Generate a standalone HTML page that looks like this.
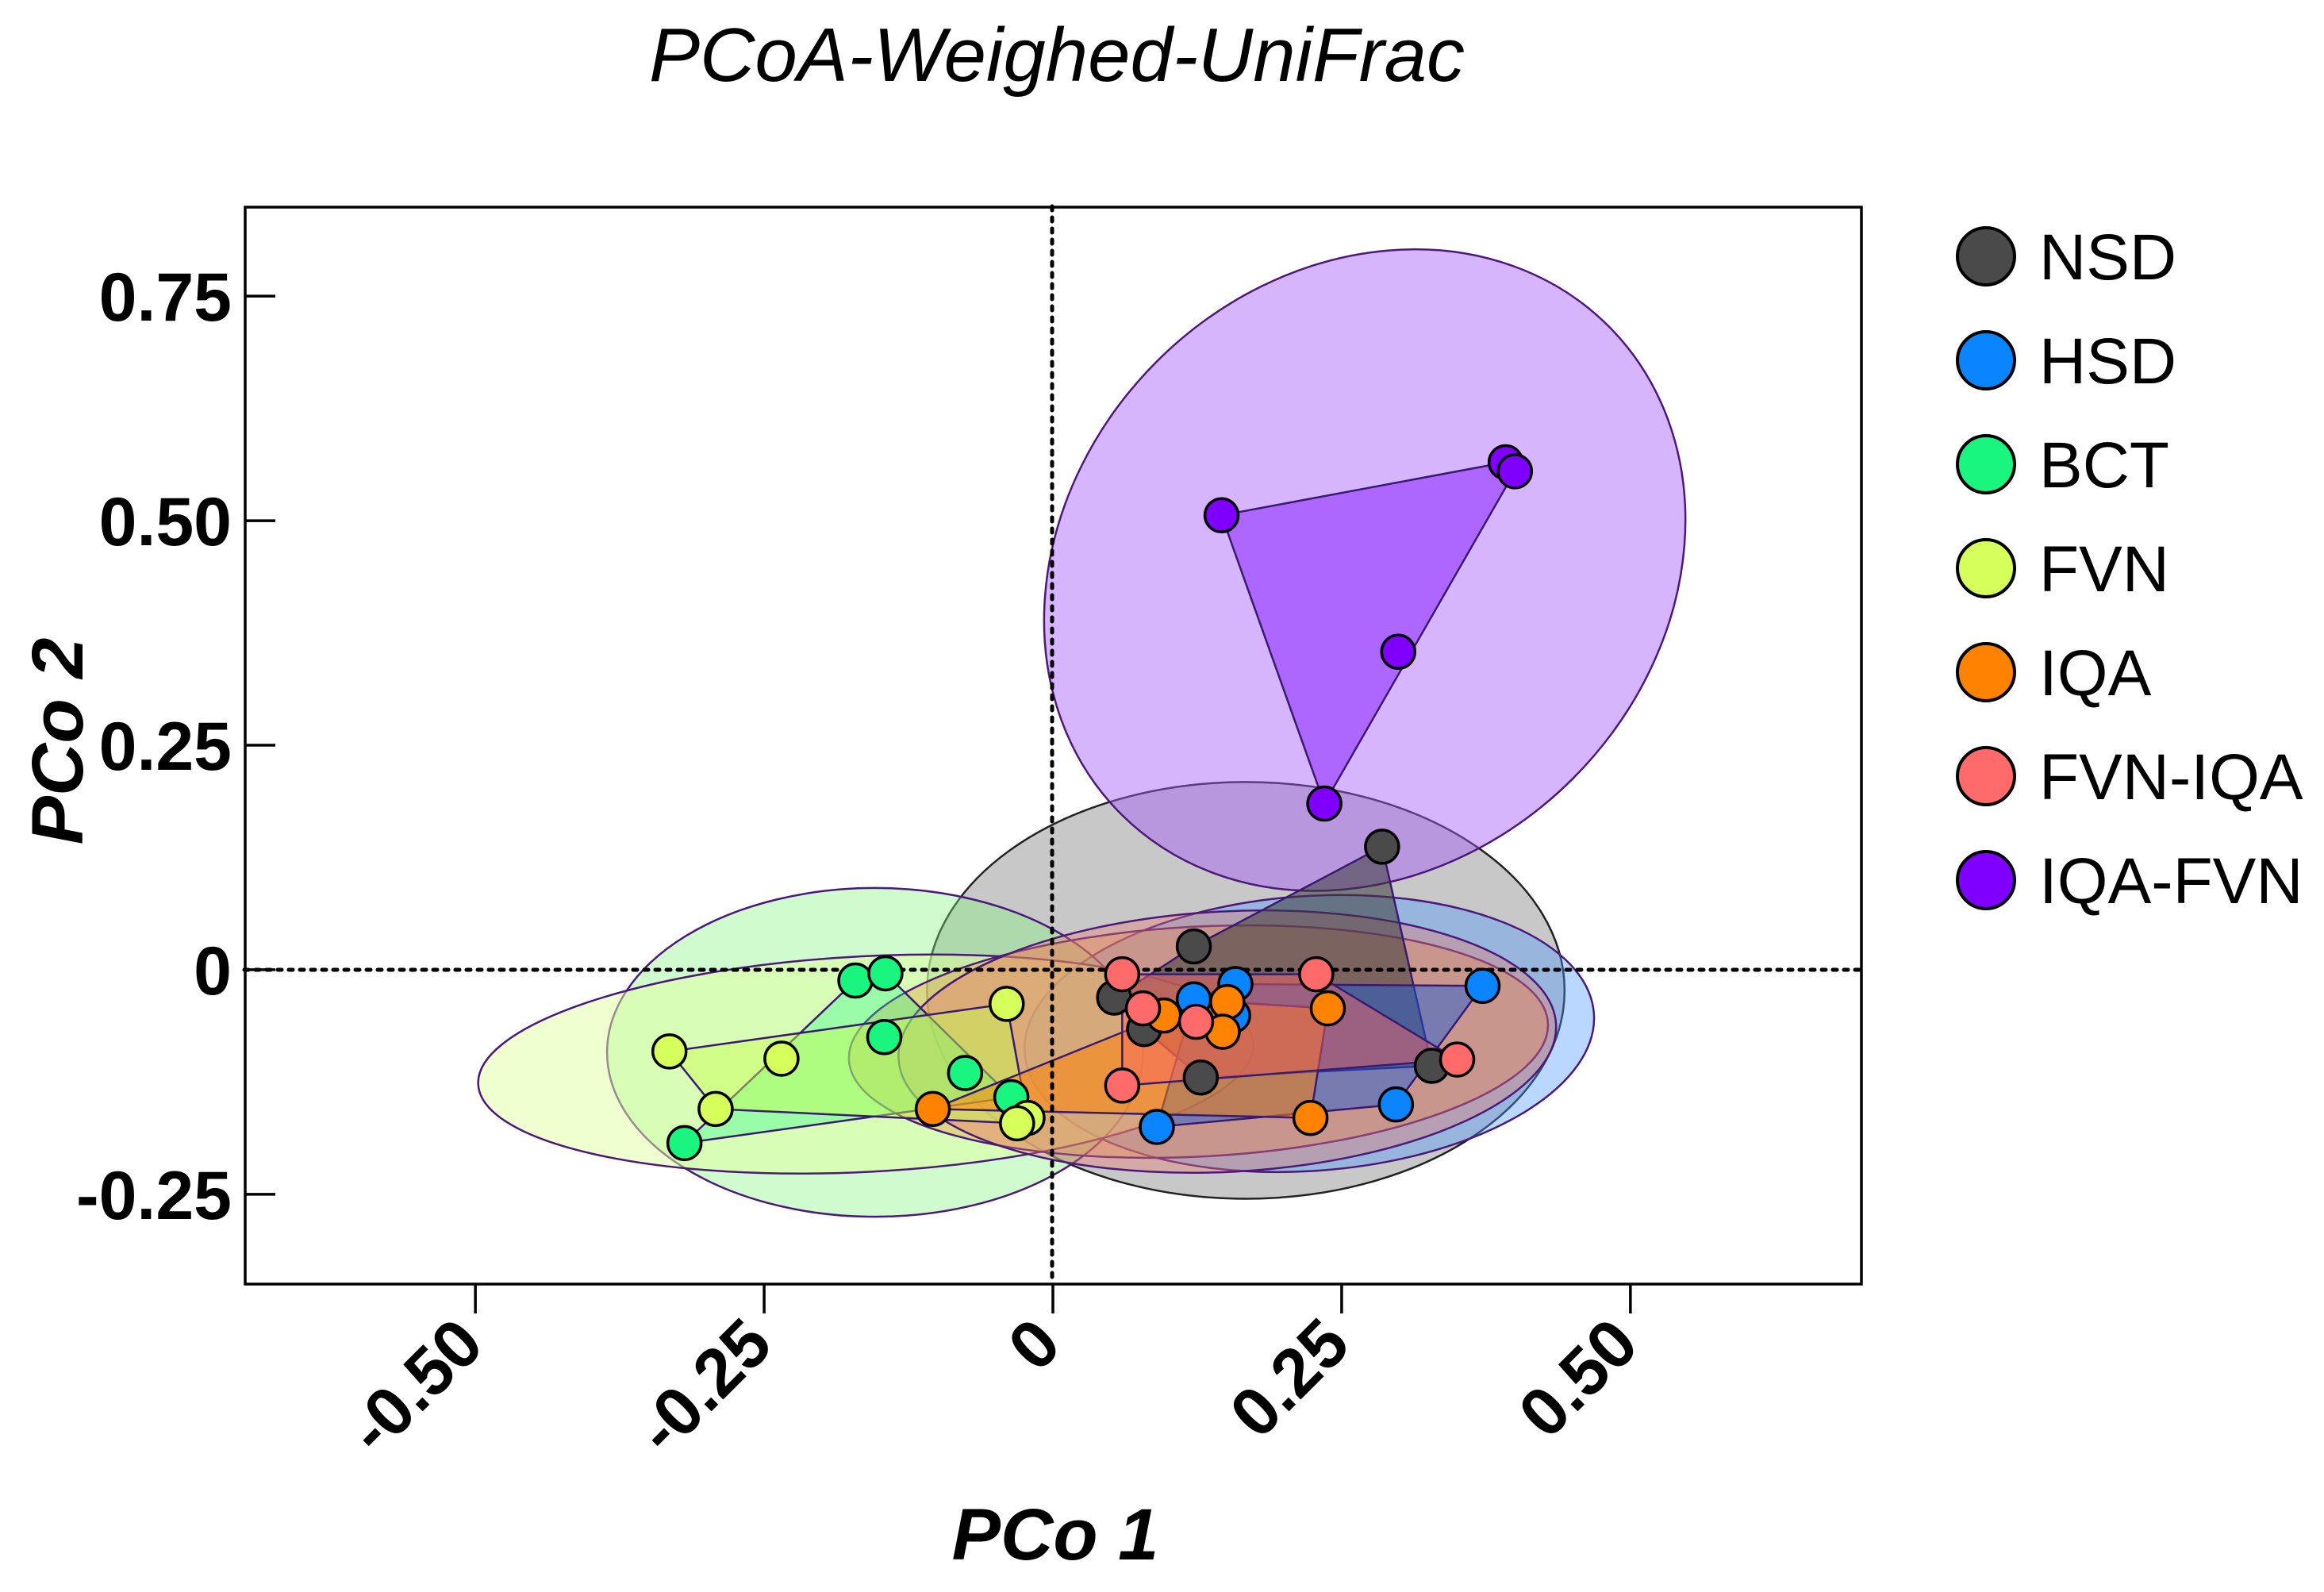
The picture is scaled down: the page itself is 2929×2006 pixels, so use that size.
<!DOCTYPE html>
<html><head><meta charset="utf-8"><style>
html,body{margin:0;padding:0;background:#fff;}
svg{display:block;font-family:"Liberation Sans",Arial,sans-serif;}
</style></head><body>
<svg id="chart" width="2929" height="2006" viewBox="0 0 2929 2006">
<text x="1332" y="102" font-size="96" font-style="italic" text-anchor="middle">PCoA-Weighed-UniFrac</text>
<g id="ellipses"></g>
<g id="hulls"></g>
<line x1="1326" y1="260" x2="1326" y2="1618" stroke="#000" stroke-width="5" stroke-dasharray="5 9" stroke-linecap="round"/>
<line x1="308" y1="1222" x2="2346" y2="1222" stroke="#000" stroke-width="5" stroke-dasharray="5 9" stroke-linecap="round"/>
<g id="points"></g>
<rect x="309" y="261" width="2037" height="1357" fill="none" stroke="#000" stroke-width="3.5"/>
<g id="axes"></g>
<text x="1330" y="1965" font-size="92" font-weight="bold" font-style="italic" text-anchor="middle">PCo 1</text>
<text transform="translate(104,934) rotate(-90)" font-size="92" font-weight="bold" font-style="italic" text-anchor="middle">PCo 2</text>
<g id="legend"></g>
</svg>
<script>
const groups = ["NSD","HSD","BCT","FVN","IQA","FVN-IQA","IQA-FVN"];
const colors = ["#4a4a4a","#0a84ff","#1af57f","#d6ff5c","#ff8200","#ff6a6a","#7f00ff"];
const ellFill = ["rgba(110,110,110,0.38)","rgba(70,150,255,0.38)","rgba(130,245,130,0.38)","rgba(225,255,160,0.5)","rgba(230,150,60,0.38)","rgba(235,120,110,0.38)","rgba(165,90,250,0.45)"];
const hullFill = ["rgba(60,60,60,0.55)","rgba(20,90,220,0.45)","rgba(40,245,140,0.35)","rgba(200,255,80,0.45)","rgba(255,130,0,0.5)","rgba(255,100,100,0.45)","rgba(150,60,255,0.65)"];
const xsNSD = [0.285,0.122,0.053,0.079,0.128,0.328];
const ysNSD = [0.137,0.026,-0.031,-0.066,-0.12,-0.107];
const xsHSD = [0.158,0.122,0.156,0.372,0.297,0.09];
const ysHSD = [-0.016,-0.033,-0.051,-0.018,-0.15,-0.175];
const xsBCT = [-0.171,-0.145,-0.146,-0.076,-0.036,-0.319];
const ysBCT = [-0.012,-0.004,-0.075,-0.115,-0.142,-0.193];
const xsFVN = [-0.332,-0.235,-0.292,-0.04,-0.022,-0.031];
const ysFVN = [-0.091,-0.099,-0.155,-0.038,-0.165,-0.171];
const xsIQA = [0.096,0.151,0.147,0.238,0.223,-0.104];
const ysIQA = [-0.051,-0.036,-0.069,-0.043,-0.165,-0.155];
const xsFI = [0.06,0.078,0.124,0.228,0.35,0.06];
const ysFI = [-0.005,-0.043,-0.058,-0.005,-0.1,-0.129];
const xsIF = [0.146,0.392,0.4,0.299,0.235];
const ysIF = [0.506,0.565,0.555,0.354,0.185];
const allX = [xsNSD,xsHSD,xsBCT,xsFVN,xsIQA,xsFI,xsIF];
const allY = [ysNSD,ysHSD,ysBCT,ysFVN,ysIQA,ysFI,ysIF];
// ellipses: center x, center y, radius x, radius y (data units), angle deg
const ellCx = [0.167,0.222,-0.154,-0.162,0.126,0.151,0.27];
const ellCy = [-0.023,-0.071,-0.092,-0.105,-0.08,-0.08,0.445];
const ellRx = [0.276,0.247,0.232,0.336,0.303,0.285,0.255];
const ellRy = [0.232,0.153,0.183,0.12,0.128,0.145,0.384];
const ellAng = [0,-4,0,-3,-3,-3,45];
const xTicks = [-0.5,-0.25,0,0.25,0.5];
const xTickLabels = ["-0.50","-0.25","0","0.25","0.50"];
const yTicks = [-0.25,0,0.25,0.5,0.75];
const yTickLabels = ["-0.25","0","0.25","0.50","0.75"];

const X0=308,X1=2346,Y0=260,Y1=1618, xmin=-0.7,xmax=0.7,ymin=-0.35,ymax=0.85;
function sx(v){return X0+(v-xmin)/(xmax-xmin)*(X1-X0);}
function sy(v){return Y1-(v-ymin)/(ymax-ymin)*(Y1-Y0);}
const NS="http://www.w3.org/2000/svg";
function mk(tag,attrs,parent){const e=document.createElementNS(NS,tag);for(const k in attrs)e.setAttribute(k,attrs[k]);parent.appendChild(e);return e;}
const gE=document.getElementById('ellipses'),gH=document.getElementById('hulls'),gP=document.getElementById('points'),gA=document.getElementById('axes'),gL=document.getElementById('legend');
const sxk=(X1-X0)/(xmax-xmin), syk=(Y1-Y0)/(ymax-ymin);
for(let i=0;i<groups.length;i++){
  const e=mk('ellipse',{cx:sx(ellCx[i]),cy:sy(ellCy[i]),rx:ellRx[i]*sxk,ry:ellRy[i]*syk,fill:ellFill[i],stroke:i==0?"#222":"#4b1a78","stroke-width":2.5,transform:`rotate(${ellAng[i]} ${sx(ellCx[i])} ${sy(ellCy[i])})`},gE);
  
  
}
function hull(pts){pts=pts.slice().sort((a,b)=>a[0]-b[0]||a[1]-b[1]);const cr=(o,a,b)=>(a[0]-o[0])*(b[1]-o[1])-(a[1]-o[1])*(b[0]-o[0]);const lo=[],up=[];for(const p of pts){while(lo.length>=2&&cr(lo[lo.length-2],lo[lo.length-1],p)<=0)lo.pop();lo.push(p);}for(const p of pts.slice().reverse()){while(up.length>=2&&cr(up[up.length-2],up[up.length-1],p)<=0)up.pop();up.push(p);}return lo.slice(0,-1).concat(up.slice(0,-1));}
for(let i=0;i<groups.length;i++){
  const pts=allX[i].map((x,j)=>[sx(x),sy(allY[i][j])]);
  const h=hull(pts);
  const p=mk('polygon',{points:h.map(q=>q.join(',')).join(' '),fill:hullFill[i],stroke:"#3a1a6e","stroke-width":2.5},gH);
  
  
}
for(let i=0;i<groups.length;i++){
  for(let j=0;j<allX[i].length;j++){
    const c=mk('circle',{cx:sx(allX[i][j]),cy:sy(allY[i][j]),r:21,fill:colors[i],stroke:"#000","stroke-width":3.5},gP);
    
    
  }
}
for(let k=0;k<yTicks.length;k++){
  const y=sy(yTicks[k]);
  const l=mk('line',{x1:309,y1:y,x2:347,y2:y,stroke:"#000","stroke-width":3.5},gA);
  
  
  const t=mk('text',{x:292,y:y+31,"font-size":86,"font-weight":"bold","text-anchor":"end"},gA);
  t.textContent=yTickLabels[k];
  
  
}
for(let k=0;k<xTicks.length;k++){
  const x=sx(xTicks[k]);
  const l=mk('line',{x1:x,y1:1618,x2:x,y2:1655,stroke:"#000","stroke-width":3.5},gA);
  
  
  const t=mk('text',{transform:`translate(${x+14},${1698}) rotate(-45)`,"font-size":86,"font-weight":"bold","text-anchor":"end"},gA);
  t.textContent=xTickLabels[k];
  
  
}
for(let i=0;i<groups.length;i++){
  const y=323+131*i;
  const c=mk('circle',{cx:2503,cy:y,r:36,fill:colors[i],stroke:"#000","stroke-width":4},gL);
  
  
  const t=mk('text',{x:2570,y:y+29,"font-size":82},gL);
  t.textContent=groups[i];
  
  
}
</script>
</body></html>
